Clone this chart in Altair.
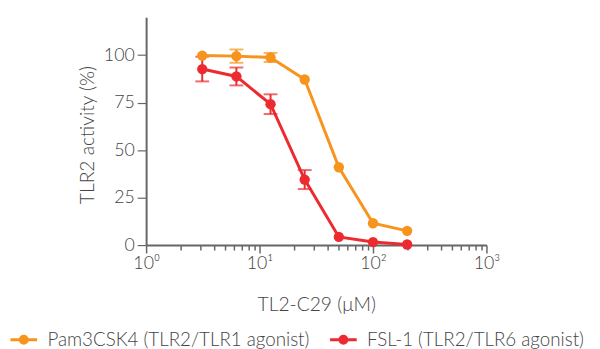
import altair as alt
import pandas as pd

conc = [3.125, 6.25, 12.5, 25, 50, 100, 200]
pam = [99.8, 99.5, 98.8, 87.2, 41.0, 11.5, 7.5]
pam_err = [0, 3.5, 2.4, 0, 0, 0, 0]
fsl = [92.7, 88.8, 74.2, 34.5, 4.3, 1.6, 0.3]
fsl_err = [6.5, 4.7, 5.2, 5.0, 0, 0, 0]

series_names = ["Pam3CSK4 (TLR2/TLR1 agonist)", "FSL-1 (TLR2/TLR6 agonist)"]
colors = ["#F7941D", "#EC2A2F"]

x_ticks = [1, 2, 3, 4, 5, 6, 7, 8, 9, 10, 20, 30, 40, 50, 60, 70, 80, 90,
           100, 200, 300, 400, 500, 600, 700, 800, 900, 1000]
y_ticks = [0, 25, 50, 75, 100]

rows = []
for name, vals, errs in [(series_names[0], pam, pam_err), (series_names[1], fsl, fsl_err)]:
    for c, v, e in zip(conc, vals, errs):
        rows.append({"conc": c, "val": v, "lo": v - e, "hi": v + e, "err": e, "series": name})
df = pd.DataFrame(rows)

FONT = "Lato"
TXT = "#444444"
AX = "#666666"

xscale = alt.Scale(type="log", domain=[1, 1000])
yscale = alt.Scale(domain=[0, 120])
legend = alt.Legend(
    title=None,
    orient="none",
    direction="horizontal",
    legendX=-139,
    legendY=312,
    symbolType="M-1,0L1,0M-0.26,0A0.26,0.26,0,1,1,0.26,0A0.26,0.26,0,1,1,-0.26,0Z",
    symbolSize=729,
    symbolStrokeWidth=3,
    labelFont=FONT,
    labelFontSize=19,
    labelColor=TXT,
    labelFontWeight=300,
    labelLimit=400,
    columnPadding=14,
    labelOffset=9,
)
cscale = alt.Scale(domain=series_names, range=colors)
fill = alt.Fill("series:N", scale=cscale, legend=legend)
stroke = alt.Stroke("series:N", scale=cscale, legend=legend)

xaxis = alt.Axis(
    values=x_ticks,
    labelExpr="datum.value==1?'10⁰':datum.value==10?'10¹':datum.value==100?'10²':datum.value==1000?'10³':''",
    tickSize={"condition": {"test": "datum.value==1||datum.value==10||datum.value==100||datum.value==1000", "value": 8}, "value": 5},
    tickColor=AX,
    tickWidth=1.5,
    domainColor=AX,
    domainWidth=2,
    grid=False,
    labelFont=FONT,
    labelFontSize=18,
    labelColor=TXT,
    labelFontWeight=300,
    labelPadding=2,
    labelFlush=False,
    labelOverlap=False,
    title="TL2-C29 (μM)",
    titleFont=FONT,
    titleFontSize=19.5,
    titleFontWeight=300,
    titleColor=TXT,
    titlePadding=23,
)
yaxis = alt.Axis(
    values=y_ticks,
    tickSize=9,
    tickWidth=1.2,
    tickColor=AX,
    domainColor=AX,
    domainWidth=2,
    grid=False,
    labelFont=FONT,
    labelFontSize=18,
    labelColor=TXT,
    labelFontWeight=300,
    labelPadding=3,
    title="TLR2 activity (%)",
    titleFont=FONT,
    titleFontSize=19.5,
    titleFontWeight=300,
    titleColor=TXT,
    titlePadding=6,
    titleY=119,
)

base = alt.Chart(df)

lines = base.mark_line(strokeWidth=3).encode(
    x=alt.X("conc:Q", scale=xscale, axis=xaxis),
    y=alt.Y("val:Q", scale=yscale, axis=yaxis),
    stroke=stroke,
    order=alt.Order("conc:Q"),
)
points = base.mark_point(filled=True, size=110, opacity=1, strokeWidth=0).encode(
    x="conc:Q", y="val:Q", fill=fill, stroke=stroke,
)
err_df = base.transform_filter("datum.err > 0")
rules = err_df.mark_rule(strokeWidth=2).encode(
    x="conc:Q", y="lo:Q", y2="hi:Q", stroke=stroke,
)
caps_lo = err_df.mark_tick(orient="horizontal", size=14, thickness=2).encode(
    x="conc:Q", y="lo:Q", fill=fill,
)
caps_hi = err_df.mark_tick(orient="horizontal", size=14, thickness=2).encode(
    x="conc:Q", y="hi:Q", fill=fill,
)

def only(layer, name):
    return layer.transform_filter(alt.datum.series == name)

layers = []
for name in [series_names[1], series_names[0]]:
    layers += [only(lines, name), only(rules, name), only(caps_lo, name), only(caps_hi, name), only(points, name)]

chart = alt.layer(*layers).properties(
    width=345,
    height=231,
    autosize=alt.AutoSizeParams(type="none"),
    padding={"left": 140, "top": 7, "right": 107, "bottom": 103},
).configure(font=FONT, view=alt.ViewConfig(stroke=None))

chart.save("out.html", embed_options={"renderer": "svg", "actions": False})
